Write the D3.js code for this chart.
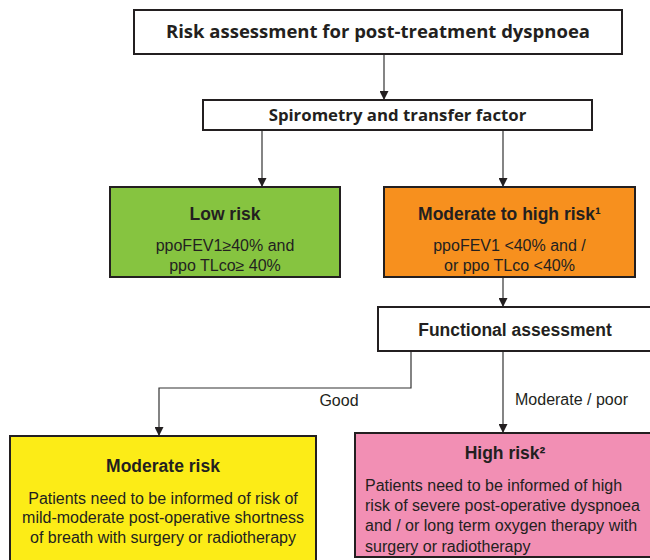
<!DOCTYPE html>
<html>
<head>
<meta charset="utf-8">
<script src="https://cdn.jsdelivr.net/npm/d3@7"></script>
<style>
  body { margin: 0; background: #fff; }
  svg { display: block; }
  .box { stroke: #231f20; stroke-width: 2; }
  .link { fill: none; stroke: #333; stroke-width: 1.2; }
  text { fill: #231f20; }
</style>
</head>
<body>
<div id="chart"></div>
<script>
// node ids, titles and body text
var nodeIds = ["top", "spiro", "low", "modHigh", "func", "moderate", "high"];
var titles = [
  "Risk assessment for post-treatment dyspnoea",
  "Spirometry and transfer factor",
  "Low risk",
  "Moderate to high risk\u00b9",
  "Functional assessment",
  "Moderate risk",
  "High risk\u00b2"
];
var bodies = [
  [],
  [],
  ["ppoFEV1\u226540% and", "ppo TLco\u2265 40%"],
  ["ppoFEV1 <40% and /", "or ppo TLco <40%"],
  [],
  ["Patients need to be informed of risk of", "mild-moderate post-operative shortness", "of breath with surgery or radiotherapy"],
  ["Patients need to be informed of high", "risk of severe post-operative dyspnoea", "and / or long term oxygen therapy with", "surgery or radiotherapy"]
];
var fills = ["#fff", "#fff", "#86c440", "#f7901e", "#fff", "#fcec17", "#f28fb4"];
var linkFrom = ["top", "spiro", "spiro", "modHigh", "func", "func"];
var linkTo   = ["spiro", "low", "modHigh", "func", "moderate", "high"];
var linkLabels = ["", "", "", "", "Good", "Moderate / poor"];

// layout (pixels)
var layout = {
  top:      {x: 134, y: 10,  w: 488, h: 44, font: "'Open Sans', sans-serif", size: 18.5, ty: 32},
  spiro:    {x: 203, y: 100, w: 389, h: 30, font: "'Open Sans', sans-serif", size: 16.8, ty: 115},
  low:      {x: 110, y: 187, w: 230, h: 90, size: 17.5, ty: 214, by: 245, lh: 20.5, bsize: 16},
  modHigh:  {x: 384, y: 187, w: 251, h: 90, size: 17.5, ty: 214, by: 245, lh: 20.5, bsize: 16},
  func:     {x: 378, y: 307, w: 274, h: 44, size: 17.5, ty: 330},
  moderate: {x: 10,  y: 436, w: 306, h: 140, size: 17.5, ty: 466, by: 498, lh: 19.5, bsize: 16},
  high:     {x: 355, y: 433, w: 300, h: 124, size: 17.5, ty: 453, by: 485, lh: 20.3, bsize: 16, left: 365}
};
var linkLayout = [
  {pts: [[384, 54], [384, 100]]},
  {pts: [[262, 130], [262, 187]]},
  {pts: [[503, 130], [503, 187]]},
  {pts: [[503, 277], [503, 307]]},
  {pts: [[411, 351], [411, 388], [159, 388], [159, 436]], lx: 339, ly: 400, anchor: "middle"},
  {pts: [[503, 351], [503, 433]], lx: 515, ly: 399, anchor: "start"}
];

var width = 650, height = 560;
var svg = d3.select("#chart").append("svg")
  .attr("width", width)
  .attr("height", height);

svg.append("defs").append("marker")
  .attr("id", "arrow")
  .attr("viewBox", "0 0 10 10")
  .attr("refX", 10).attr("refY", 5)
  .attr("markerWidth", 9).attr("markerHeight", 9)
  .attr("markerUnits", "userSpaceOnUse")
  .attr("orient", "auto")
  .append("path")
  .attr("d", "M0,0L10,5L0,10Z")
  .attr("fill", "#231f20");

var line = d3.line();

// links
var links = linkFrom.map(function(f, i) {
  return {from: f, to: linkTo[i], label: linkLabels[i], lay: linkLayout[i]};
});

svg.selectAll(".link").data(links).enter().append("path")
  .attr("class", "link")
  .attr("d", function(d) { return line(d.lay.pts); })
  .attr("marker-end", "url(#arrow)");

svg.selectAll(".linkLabel").data(links.filter(function(d) { return d.label; })).enter()
  .append("text")
  .attr("class", "linkLabel")
  .attr("x", function(d) { return d.lay.lx; })
  .attr("y", function(d) { return d.lay.ly; })
  .attr("dy", "0.35em")
  .attr("text-anchor", function(d) { return d.lay.anchor; })
  .style("font-family", "'Liberation Sans', Arial, sans-serif")
  .style("font-size", "16px")
  .text(function(d) { return d.label; });

// nodes
var nodes = nodeIds.map(function(id, i) {
  return {id: id, title: titles[i], body: bodies[i], fill: fills[i], lay: layout[id]};
});

var g = svg.selectAll(".node").data(nodes).enter().append("g").attr("class", "node");

g.append("rect")
  .attr("class", "box")
  .attr("x", function(d) { return d.lay.x; })
  .attr("y", function(d) { return d.lay.y; })
  .attr("width", function(d) { return d.lay.w; })
  .attr("height", function(d) { return d.lay.h; })
  .attr("fill", function(d) { return d.fill; });

g.append("text")
  .attr("x", function(d) { return d.lay.x + d.lay.w / 2; })
  .attr("y", function(d) { return d.lay.ty; })
  .attr("dy", "0.35em")
  .attr("text-anchor", "middle")
  .style("font-family", function(d) { return d.lay.font || "'Liberation Sans', Arial, sans-serif"; })
  .style("font-weight", "bold")
  .style("font-size", function(d) { return d.lay.size + "px"; })
  .text(function(d) { return d.title; });

g.each(function(d) {
  if (!d.body.length) return;
  var left = d.lay.left;
  var t = d3.select(this).append("text")
    .attr("text-anchor", left ? "start" : "middle")
    .style("font-family", "'Liberation Sans', Arial, sans-serif")
    .style("font-size", d.lay.bsize + "px");
  t.selectAll("tspan").data(d.body).enter().append("tspan")
    .attr("x", left ? left : d.lay.x + d.lay.w / 2)
    .attr("y", function(s, i) { return d.lay.by + i * d.lay.lh; })
    .attr("dy", "0.35em")
    .text(function(s) { return s; });
});
</script>
</body>
</html>
